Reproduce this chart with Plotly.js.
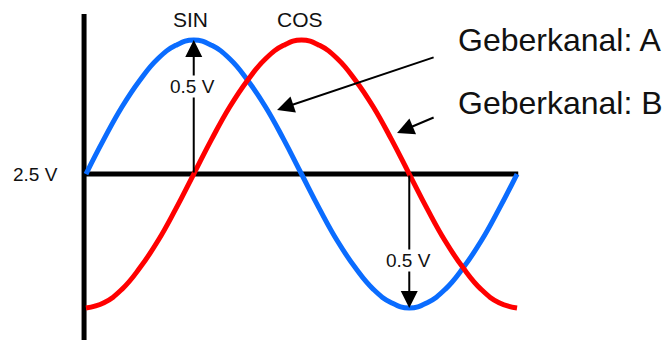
<!DOCTYPE html>
<html>
<head>
<meta charset="utf-8">
<script src="https://cdn.plot.ly/plotly-3.0.1.min.js"></script>
<style>html,body{margin:0;padding:0;background:#fff;}#chart{width:663px;height:340px;}</style>
</head>
<body>
<div id="chart"></div>
<script>
// Phase angle (degrees)
const angles = [0,15,30,45,60,75,90,105,120,135,150,165,180,195,210,225,240,255,270,285,300,315,330,345,360];
// Channel A (SIN), volts
const sinValues = [2.50,2.63,2.75,2.85,2.93,2.98,3.00,2.98,2.93,2.85,2.75,2.63,2.50,2.37,2.25,2.15,2.07,2.02,2.00,2.02,2.07,2.15,2.25,2.37,2.50];
// Channel B (COS), volts
const cosValues = [2.00,2.02,2.07,2.15,2.25,2.37,2.50,2.63,2.75,2.85,2.93,2.98,3.00,2.98,2.93,2.85,2.75,2.63,2.50,2.37,2.25,2.15,2.07,2.02,2.00];
const offsetV = 2.5;
const amplitudeLabel = "0.5 V";
const offsetLabel = "2.5 V";
const seriesNames = ["SIN", "COS"];
const channelLabels = ["Geberkanal: A", "Geberkanal: B"];

const FONT = "Liberation Sans, Arial, sans-serif";
const blue = "#0a6cff", red = "#ff0000";

const traces = [
  {x: angles, y: sinValues, type: "scatter", mode: "lines", name: seriesNames[0],
   line: {color: blue, width: 5, shape: "spline", smoothing: 1.3}, hoverinfo: "skip"},
  {x: angles, y: cosValues, type: "scatter", mode: "lines", name: seriesNames[1],
   line: {color: red, width: 5, shape: "spline", smoothing: 1.3}, hoverinfo: "skip"}
];

const peakIdx = sinValues.indexOf(Math.max(...sinValues));
const troughIdx = sinValues.indexOf(Math.min(...sinValues));
const cosPeakIdx = cosValues.indexOf(Math.max(...cosValues));

const txt = (s, x, y, size, extra) => Object.assign({
  text: s, x: x, y: y, xref: "x", yref: "y", showarrow: false,
  font: {family: FONT, size: size, color: "#111"}
}, extra || {});

const arrowStyle = {text: "", showarrow: true, arrowhead: 2, arrowsize: 1.7, arrowwidth: 2,
  arrowcolor: "#000", standoff: 0, xref: "x", yref: "y", axref: "x", ayref: "y"};

const annotations = [
  // amplitude arrows
  Object.assign({x: angles[peakIdx], y: sinValues[peakIdx], ax: angles[peakIdx], ay: offsetV}, arrowStyle),
  Object.assign({x: angles[troughIdx], y: sinValues[troughIdx], ax: angles[troughIdx], ay: offsetV}, arrowStyle),
  txt(amplitudeLabel, angles[peakIdx] - 1, 2.825, 19, {bgcolor: "#fff", borderpad: 0}),
  txt(amplitudeLabel, angles[troughIdx] - 1, 2.177, 19, {bgcolor: "#fff", borderpad: 0}),
  // series names
  txt(seriesNames[0], angles[peakIdx] - 3, 3.075, 21),
  txt(seriesNames[1], angles[cosPeakIdx] - 1, 3.075, 21),
  // offset label
  txt(offsetLabel, -42, offsetV, 19),
  // channel labels
  txt(channelLabels[0], 309, 3.0, 32, {xanchor: "left"}),
  txt(channelLabels[1], 309, 2.765, 32, {xanchor: "left"}),
  // channel pointer arrows
  Object.assign({x: 159.6, y: 2.739, ax: 291.6, ay: 2.937}, arrowStyle),
  Object.assign({x: 259.8, y: 2.653, ax: 291.6, ay: 2.713}, arrowStyle)
];

const shapes = [
  {type: "line", xref: "x", yref: "y", x0: -1.6, x1: -1.6, y0: 3.097, y1: 1.86,
   line: {color: "#000", width: 5}, layer: "below"},
  {type: "line", xref: "x", yref: "y", x0: -1.6, x1: 361, y0: offsetV, y1: offsetV,
   line: {color: "#000", width: 5}, layer: "below"}
];

const layout = {
  width: 663, height: 340,
  margin: {l: 0, r: 0, t: 0, b: 0},
  paper_bgcolor: "#fff", plot_bgcolor: "#fff",
  showlegend: false,
  xaxis: {range: [-71.8, 481.9], visible: false, fixedrange: true},
  yaxis: {range: [1.881, 3.149], visible: false, fixedrange: true},
  annotations: annotations,
  shapes: shapes
};

Plotly.newPlot("chart", traces, layout, {staticPlot: true, displayModeBar: false});
</script>
</body>
</html>
